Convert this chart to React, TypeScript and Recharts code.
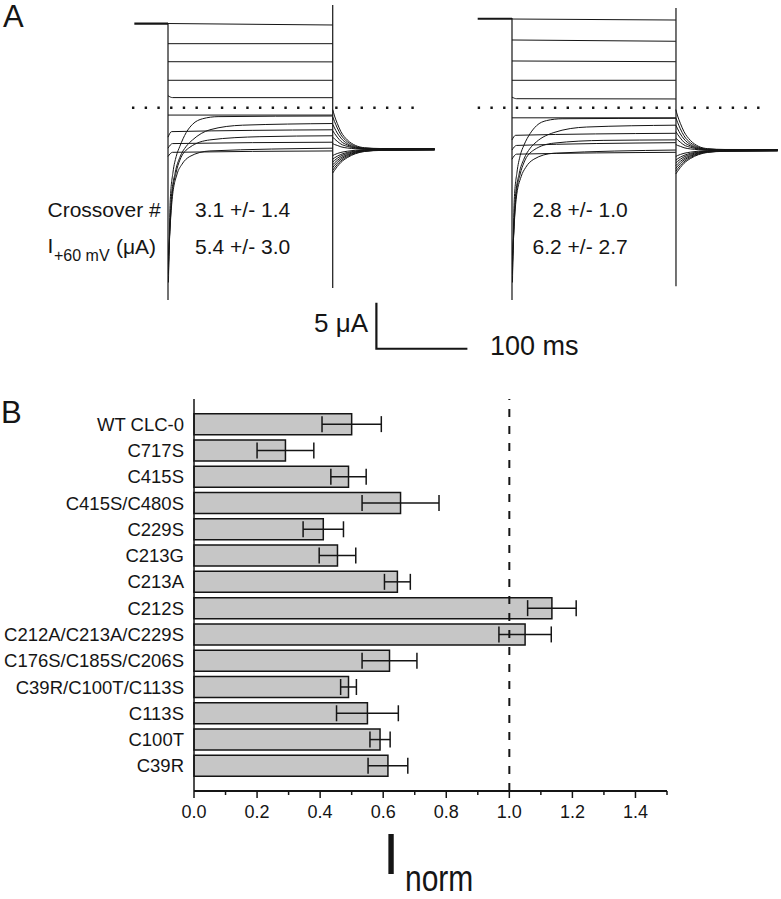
import React from "react";
import { LineChart, Line, XAxis, YAxis, BarChart, Bar, ErrorBar, ReferenceLine } from "recharts";

type Pt = [number, number]; // [time ms, current µA]

// ---- panel A: voltage-clamp traces ----
const leftHolding: Pt[] = [[-37, 9.15], [0, 9.15]];
const leftSpikes: Pt[][] = [
    [[0, 9.2], [0, -20.9]],
    [[181, 11.16], [181, -19.6]],
];
const leftZero: Pt[] = [[-39.6, 0], [279, 0]];
const leftSteps: Pt[][] = [
    [[0, 9.15], [181, 8.99]],
    [[0, 6.96], [181, 6.96]],
    [[0, 5.0], [181, 4.98]],
    [[0, 2.98], [181, 2.98]],
    [[0, 1.3], [5, 1.1], [181, 1.09]],
    [[0, -0.8], [181, -0.8]],
    [[0.5, -19], [2.5, -10], [5.5, -7], [9, -5.3], [13, -4.2], [20, -2.7], [27, -1.8], [38, -1.2], [55, -0.97], [181, -0.9]],
    [[0.5, -18], [3.5, -10], [8, -7], [13, -5.4], [20, -4.2], [27, -3.5], [46, -2.4], [82, -1.9], [181, -1.72]],
    [[0, -3.2], [4, -2.6], [181, -2.4]],
    [[0.5, -17], [4, -10], [9, -7], [13, -5.7], [24, -4.3], [46, -3.5], [101, -3.15], [181, -3.05]],
    [[0, -4.4], [5, -3.9], [181, -3.75]],
    [[0.5, -16], [4.5, -10], [10, -7.2], [15, -6.2], [24, -5.3], [46, -4.7], [181, -4.4]],
    [[0, -5.3], [5, -4.85], [181, -4.7]],
];
const leftTailT = [181, 183, 186, 190, 197, 206, 216, 235, 293];
const leftTailI = [
    [-0.2, -0.9, -1.7, -2.6, -3.5, -4.1, -4.35, -4.44, -4.45],
    [-1.0, -1.5, -2.2, -2.95, -3.7, -4.2, -4.4, -4.46, -4.47],
    [-1.8, -2.2, -2.75, -3.3, -3.9, -4.28, -4.43, -4.48, -4.49],
    [-2.5, -2.8, -3.2, -3.65, -4.05, -4.35, -4.46, -4.5, -4.5],
    [-3.2, -3.4, -3.65, -3.95, -4.2, -4.4, -4.48, -4.51, -4.51],
    [-3.9, -4.0, -4.1, -4.25, -4.38, -4.46, -4.5, -4.52, -4.52],
    [-5.2, -5.1, -4.98, -4.86, -4.73, -4.62, -4.57, -4.54, -4.53],
    [-5.6, -5.45, -5.27, -5.08, -4.87, -4.7, -4.61, -4.56, -4.54],
    [-5.9, -5.73, -5.5, -5.25, -4.98, -4.76, -4.64, -4.57, -4.55],
    [-6.2, -6.0, -5.73, -5.43, -5.1, -4.82, -4.67, -4.59, -4.56],
    [-6.5, -6.26, -5.95, -5.6, -5.2, -4.88, -4.7, -4.6, -4.57],
    [-6.8, -6.53, -6.18, -5.78, -5.32, -4.94, -4.73, -4.62, -4.58],
    [-7.1, -6.8, -6.4, -5.95, -5.43, -5.0, -4.76, -4.64, -4.6],
];
const scaleBar: Pt[] = [[229, -21.2], [229, -26.2], [329, -26.2]]; // 5 µA, 100 ms

const rightHolding: Pt[] = [[-37.7, 9.67], [0, 9.67]];
const rightSpikes: Pt[][] = [
    [[0, 9.75], [0, -20.9]],
    [[180.2, 10.84], [180.2, -19.4]],
];
const rightZero: Pt[] = [[-37.7, 0], [279.9, 0]];
const rightSteps: Pt[][] = [
    [[0, 9.64], [180, 9.53]],
    [[0, 7.36], [180, 7.22]],
    [[0, 5.08], [180, 5.0]],
    [[0, 2.98], [180, 2.98]],
    [[0, 1.15], [5, 0.98], [180, 0.95]],
    [[0, -1.1], [180, -1.1]],
    [[0.5, -19], [2.5, -10], [5.5, -7], [9, -5.2], [13, -4.1], [20, -2.8], [27, -1.95], [38, -1.4], [55, -1.2], [180, -1.15]],
    [[0.5, -18], [3.5, -10], [8, -7.1], [13, -5.6], [20, -4.4], [27, -3.7], [46, -2.7], [82, -2.1], [180, -1.9]],
    [[0, -3.5], [4, -3.0], [180, -2.78]],
    [[0.5, -17], [4, -10], [9, -7.2], [13, -6.0], [24, -4.6], [46, -3.85], [101, -3.55], [180, -3.5]],
    [[0, -4.6], [5, -4.1], [180, -3.8]],
    [[0.5, -16], [4.5, -10], [10, -7.5], [15, -6.5], [24, -5.6], [46, -4.95], [180, -4.6]],
    [[0, -5.6], [5, -5.05], [180, -4.85]],
];
const rightTailT = [180, 182, 185, 189, 196, 205, 215, 234, 292];
const rightTailI = [
    [-0.2, -0.9, -1.7, -2.6, -3.55, -4.2, -4.45, -4.54, -4.55],
    [-1.1, -1.6, -2.3, -3.05, -3.8, -4.3, -4.5, -4.56, -4.57],
    [-1.9, -2.3, -2.85, -3.4, -4.0, -4.38, -4.53, -4.58, -4.59],
    [-2.6, -2.9, -3.3, -3.75, -4.15, -4.45, -4.56, -4.6, -4.6],
    [-3.3, -3.5, -3.75, -4.05, -4.3, -4.5, -4.58, -4.61, -4.61],
    [-4.0, -4.1, -4.2, -4.35, -4.48, -4.56, -4.6, -4.62, -4.62],
    [-5.3, -5.2, -5.08, -4.96, -4.83, -4.72, -4.67, -4.64, -4.63],
    [-5.7, -5.55, -5.37, -5.18, -4.97, -4.8, -4.71, -4.66, -4.64],
    [-6.0, -5.83, -5.6, -5.35, -5.08, -4.86, -4.74, -4.67, -4.65],
    [-6.3, -6.1, -5.83, -5.53, -5.2, -4.92, -4.77, -4.69, -4.66],
    [-6.6, -6.36, -6.05, -5.7, -5.3, -4.98, -4.8, -4.7, -4.67],
    [-6.9, -6.63, -6.28, -5.88, -5.42, -5.04, -4.83, -4.72, -4.68],
    [-7.2, -6.9, -6.5, -6.05, -5.53, -5.1, -4.86, -4.74, -4.7],
];

// ---- panel B: normalized current ----
const mutants = [
    "WT CLC-0", "C717S", "C415S", "C415S/C480S", "C229S", "C213G", "C213A", "C212S",
    "C212A/C213A/C229S", "C176S/C185S/C206S", "C39R/C100T/C113S", "C113S", "C100T", "C39R",
];
const iNorm = [0.5, 0.29, 0.49, 0.655, 0.41, 0.455, 0.645, 1.135, 1.05, 0.62, 0.49, 0.55, 0.59, 0.615];
const iNormErr = [0.094, 0.09, 0.056, 0.122, 0.064, 0.058, 0.041, 0.077, 0.083, 0.087, 0.025, 0.098, 0.032, 0.063];
const xTicks = [0, 0.1, 0.2, 0.3, 0.4, 0.5, 0.6, 0.7, 0.8, 0.9, 1.0, 1.1, 1.2, 1.3, 1.4, 1.5];

const barRows = mutants.map((name, i) => ({ name, value: iNorm[i], err: iNormErr[i] }));

const FONT = '"Liberation Sans", Arial, Helvetica, sans-serif';
const INK = "#151515";
const Y_DOMAIN: [number, number] = [-28.51, 11.707];

const toPts = (a: Pt[]) => a.map(([t, i]) => ({ t, i }));
const tailPts = (ts: number[], rows: number[][]): Pt[][] => rows.map((r) => r.map((v, k) => [ts[k], v] as Pt));

function trace(key: string, pts: Pt[], opts: { width?: number; curve?: "monotone" | "linear"; dash?: string } = {}) {
    return (
        <Line
            key={key}
            data={toPts(pts)}
            dataKey="i"
            type={opts.curve ?? "monotone"}
            stroke={INK}
            strokeWidth={opts.width ?? 1}
            strokeDasharray={opts.dash}
            dot={false}
            activeDot={false}
            isAnimationActive={false}
        />
    );
}

function Traces({ width, xDomain, holding, spikes, zero, steps, tails, extra }: {
    width: number; xDomain: [number, number]; holding: Pt[]; spikes: Pt[][]; zero: Pt[];
    steps: Pt[][]; tails: Pt[][]; extra?: Pt[];
}) {
    return (
        <LineChart width={width} height={370} margin={{ top: 0, right: 0, bottom: 0, left: 0 }}>
            <XAxis dataKey="t" type="number" domain={xDomain} allowDataOverflow hide />
            <YAxis type="number" domain={Y_DOMAIN} allowDataOverflow hide />
            {trace("zero", zero, { width: 2.4, curve: "linear", dash: "2.4 10.3" })}
            {trace("hold", holding, { width: 2.2, curve: "linear" })}
            {spikes.map((s, k) => trace(`sp${k}`, s, { width: 1.2, curve: "linear" }))}
            {steps.map((s, k) => trace(`st${k}`, s))}
            {tails.map((s, k) => trace(`tl${k}`, s))}
            {extra && trace("bar", extra, { width: 2.2, curve: "linear" })}
        </LineChart>
    );
}

const XTick = (props: any) => {
    const { x, y, payload } = props;
    const v: number = payload.value;
    const major = Math.round(v * 10) % 2 === 0;
    return (
        <g>
            <line x1={x} x2={x} y1={y} y2={y + (major ? 7 : 4)} stroke={INK} strokeWidth={1.5} />
            {major && v < 1.45 && (
                <text x={x} y={y + 27} textAnchor="middle" fontSize={18} fill={INK} fontFamily={FONT}>
                    {v.toFixed(1)}
                </text>
            )}
        </g>
    );
};

export default function App() {
    return (
        <div style={{ position: "absolute", left: 0, top: 0, width: 781, height: 899, background: "#fff", fontFamily: FONT }}>
            <div style={{ position: "absolute", left: 0, top: 0 }}>
                <Traces width={781} xDomain={[-184.62, 673.62]} holding={leftHolding} spikes={leftSpikes}
                    zero={leftZero} steps={leftSteps} tails={tailPts(leftTailT, leftTailI)} extra={scaleBar} />
            </div>
            <div style={{ position: "absolute", left: 440, top: 0 }}>
                <Traces width={341} xDomain={[-79.12, 295.6]} holding={rightHolding} spikes={rightSpikes}
                    zero={rightZero} steps={rightSteps} tails={tailPts(rightTailT, rightTailI)} />
            </div>

            <div style={{ position: "absolute", left: 0, top: 380 }}>
                <BarChart width={700} height={445} data={barRows} layout="vertical" barCategoryGap="10%"
                    margin={{ top: 19, right: 33, bottom: 4, left: 0 }}>
                    <XAxis type="number" domain={[0, 1.5]} ticks={xTicks} interval={0} tick={<XTick />}
                        tickLine={false} tickSize={0} tickMargin={0} height={30}
                        axisLine={{ stroke: INK, strokeWidth: 2 }} />
                    <XAxis xAxisId="top" orientation="top" type="number" domain={[0, 1.5]} height={0}
                        tick={false} tickLine={false} axisLine={{ stroke: INK, strokeWidth: 1.5 }} />
                    <YAxis dataKey="name" type="category" width={194} tickLine={false} tickSize={0} tickMargin={10}
                        padding={{ top: 12, bottom: 12 }} axisLine={{ stroke: INK, strokeWidth: 1.5 }}
                        tick={{ fontSize: 18.5, fill: INK, fontFamily: FONT }} interval={0} />
                    <YAxis yAxisId="right" orientation="right" type="number" domain={[0, 1]} width={0}
                        tick={false} tickLine={false} axisLine={{ stroke: INK, strokeWidth: 1.5 }} />
                    <ReferenceLine x={1} stroke={INK} strokeWidth={2} strokeDasharray="8 9" />
                    <Bar dataKey="value" fill="#c6c6c6" stroke={INK} strokeWidth={1.5} isAnimationActive={false}>
                        <ErrorBar dataKey="err" direction="x" width={8} stroke={INK} strokeWidth={1.5} />
                    </Bar>
                </BarChart>
            </div>

            <svg width={781} height={899} style={{ position: "absolute", left: 0, top: 0, pointerEvents: "none" }}
                fontFamily={FONT} fill={INK}>
                <text x={3} y={27} fontSize={31}>A</text>
                <text x={47.5} y={216.5} fontSize={21}>Crossover #</text>
                <text x={195} y={216.5} fontSize={21}>3.1 +/- 1.4</text>
                <text x={47.5} y={253} fontSize={21}>I</text>
                <text x={54} y={261} fontSize={16}>+60 mV</text>
                <text x={116} y={253.5} fontSize={21}>(μA)</text>
                <text x={195} y={254} fontSize={21}>5.4 +/- 3.0</text>
                <text x={532.5} y={216.5} fontSize={21}>2.8 +/- 1.0</text>
                <text x={532.5} y={254} fontSize={21}>6.2 +/- 2.7</text>
                <text x={368} y={332} fontSize={26} textAnchor="end">5 μA</text>
                <text x={490} y={355} fontSize={27}>100 ms</text>
                <text x={1} y={423} fontSize={31}>B</text>
                <text x={383} y={874} fontSize={58}>I</text>
                <text transform="translate(405 891) scale(1 1.22)" fontSize={30}>norm</text>
            </svg>
        </div>
    );
}
